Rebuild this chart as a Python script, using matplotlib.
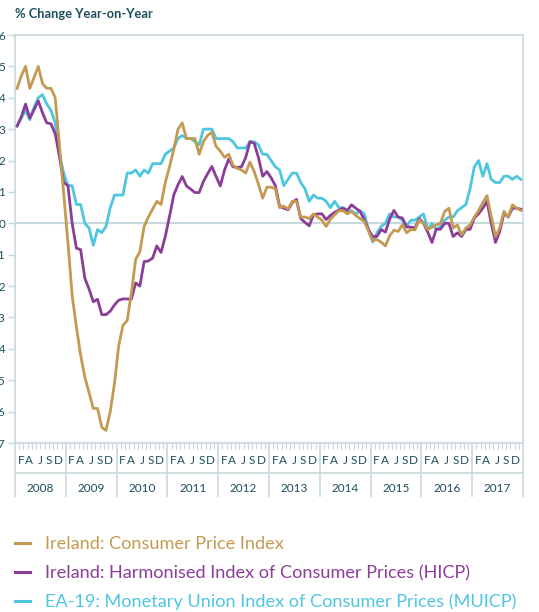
import numpy as np
import matplotlib
matplotlib.use('Agg')
import matplotlib.pyplot as plt
import matplotlib.transforms as mtransforms
from matplotlib.lines import Line2D
from matplotlib.ticker import MultipleLocator

plt.rcParams['font.family'] = ['Lato', 'DejaVu Sans']

# 데이터 (2008-01 ~ 2017-12, 월별 전년동월비 %)
years = list(range(2008, 2018))
month_marks = ['F', 'A', 'J', 'S', 'D']
y_ticks = list(range(-7, 7))

cpi = [
    4.3, 4.7, 5.0, 4.3, 4.65, 5.0, 4.45, 4.3, 4.3, 4.0, 2.5, 0.95,      # 2008
    -0.6, -2.3, -3.3, -4.2, -4.9, -5.4, -5.9, -5.9, -6.5, -6.6, -6.0, -5.1,  # 2009
    -3.9, -3.25, -3.1, -2.2, -1.15, -0.9, -0.1, 0.2, 0.45, 0.7, 0.6, 1.3,   # 2010
    1.8, 2.35, 3.0, 3.2, 2.7, 2.7, 2.7, 2.2, 2.6, 2.8, 2.9, 2.45,       # 2011
    2.3, 2.1, 2.2, 1.85, 1.75, 1.7, 1.6, 1.95, 1.65, 1.25, 0.8, 1.15,   # 2012
    1.15, 1.1, 0.5, 0.55, 0.45, 0.7, 0.7, 0.2, 0.2, 0.15, 0.3, 0.2,     # 2013
    0.1, -0.1, 0.13, 0.27, 0.4, 0.4, 0.3, 0.38, 0.25, 0.15, 0.06, -0.25,  # 2014
    -0.55, -0.52, -0.6, -0.72, -0.4, -0.22, -0.26, -0.05, -0.3, -0.2, -0.21, 0.11,  # 2015
    0.0, -0.2, -0.12, -0.05, 0.0, 0.38, 0.48, -0.15, -0.05, -0.37, -0.15, -0.05,  # 2016
    0.2, 0.4, 0.66, 0.88, 0.22, -0.42, -0.15, 0.38, 0.2, 0.59, 0.48, 0.41,  # 2017
]
hicp = [
    3.1, 3.4, 3.8, 3.35, 3.62, 3.9, 3.52, 3.2, 3.17, 2.85, 2.13, 1.3,
    1.2, 0.0, -0.79, -0.84, -1.75, -2.1, -2.5, -2.42, -2.91, -2.91, -2.8, -2.6,
    -2.45, -2.41, -2.41, -2.41, -1.9, -2.0, -1.22, -1.2, -1.11, -0.72, -0.93, -0.42,
    0.22, 0.9, 1.23, 1.49, 1.19, 1.09, 0.98, 0.98, 1.33, 1.58, 1.81, 1.49,
    1.19, 1.7, 2.05, 1.8, 1.78, 1.8, 2.1, 2.6, 2.55, 2.1, 1.5, 1.65,
    1.45, 1.2, 0.55, 0.48, 0.43, 0.66, 0.76, 0.15, 0.03, -0.08, 0.27, 0.3,
    0.3, 0.12, 0.25, 0.35, 0.42, 0.48, 0.41, 0.59, 0.48, 0.38, 0.12, -0.2,
    -0.42, -0.42, -0.2, -0.28, 0.13, 0.41, 0.2, 0.17, -0.12, -0.12, -0.15, 0.15,
    0.0, -0.28, -0.61, -0.19, -0.19, 0.0, 0.0, -0.42, -0.3, -0.42, -0.2, -0.19,
    0.17, 0.3, 0.48, 0.7, 0.0, -0.61, -0.26, 0.32, 0.2, 0.48, 0.48, 0.45,
]
muicp = [
    3.1, 3.35, 3.6, 3.3, 3.7, 4.0, 4.1, 3.8, 3.6, 3.2, 2.2, 1.6,
    1.2, 1.2, 0.6, 0.6, 0.0, -0.15, -0.7, -0.2, -0.3, -0.1, 0.5, 0.9,
    0.9, 0.9, 1.6, 1.6, 1.7, 1.5, 1.7, 1.6, 1.9, 1.9, 1.9, 2.2,
    2.3, 2.4, 2.7, 2.8, 2.7, 2.7, 2.6, 2.5, 3.0, 3.0, 3.0, 2.7,
    2.7, 2.7, 2.7, 2.6, 2.4, 2.4, 2.4, 2.6, 2.6, 2.5, 2.2, 2.2,
    2.0, 1.8, 1.7, 1.2, 1.4, 1.6, 1.6, 1.3, 1.1, 0.7, 0.9, 0.8,
    0.8, 0.7, 0.5, 0.7, 0.5, 0.5, 0.4, 0.4, 0.3, 0.4, 0.3, -0.2,
    -0.6, -0.3, -0.1, 0.0, 0.3, 0.2, 0.2, 0.1, -0.1, 0.1, 0.1, 0.2,
    0.3, -0.2, 0.0, -0.2, -0.1, 0.1, 0.2, 0.2, 0.4, 0.5, 0.6, 1.1,
    1.8, 2.0, 1.5, 1.9, 1.4, 1.3, 1.3, 1.5, 1.5, 1.4, 1.5, 1.4,
]

labels = ['Ireland: Consumer Price Index',
          'Ireland: Harmonised Index of Consumer Prices (HICP)',
          'EA-19: Monetary Union Index of Consumer Prices (MUICP)']

GOLD = '#c49a52'
PURPLE = '#8b3d98'
CYAN = '#4fc6e0'
TEXT = '#1d4f5c'
FRAME = '#c8d9dd'

# 월 중앙 위치 (연 단위)
x = np.array([yr + (m + 0.5) / 12 for yr in years for m in range(12)])

W, H = 539, 612
fig = plt.figure(figsize=(W / 100, H / 100), dpi=100)
ax = fig.add_axes([15 / W, 1 - 443 / H, (523 - 15) / W, (443 - 35) / H])

ax.plot(x, muicp, color=CYAN, lw=2.0, zorder=3)
ax.plot(x, hicp, color=PURPLE, lw=2.0, zorder=4)
ax.plot(x, cpi, color=GOLD, lw=2.0, zorder=5)

ax.set_xlim(2008, 2018)
ax.set_ylim(-7, 6)
ax.axhline(0, color=FRAME, lw=1.5, zorder=1)

for s in ax.spines.values():
    s.set_color(FRAME)
    s.set_linewidth(1.2)

# y축 (원본처럼 왼쪽 끝에서 잘림)
ax.set_yticks(y_ticks)
ax.tick_params(axis='y', length=5, width=1, color=FRAME, labelcolor=TEXT,
               labelsize=8.5, pad=2)

# x축: 연도 구분선(major), 월 눈금(minor)
ax.set_xticks(list(range(2008, 2019)))
ax.set_xticklabels([])
ax.xaxis.set_minor_locator(MultipleLocator(1 / 12))
ax.tick_params(axis='x', which='major', length=39, width=1.2, color=FRAME)
ax.tick_params(axis='x', which='minor', length=4.3, width=0.8, color=FRAME)

trans = mtransforms.blended_transform_factory(ax.transData, ax.transAxes)
ax_h = 443 - 35
ax.plot([2008, 2018], [-(473 - 443) / ax_h] * 2, color=FRAME, lw=1.2,
        transform=trans, clip_on=False)

month_off = [1.35, 3.3, 6.0, 8.05, 10.15]
for yr in years:
    for mk, off in zip(month_marks, month_off):
        ax.text(yr + off / 12, -(461 - 443) / ax_h, mk, transform=trans,
                ha='center', va='center', fontsize=8.5, color=TEXT)
    ax.text(yr + 0.5, -(489 - 443) / ax_h, str(yr), transform=trans,
            ha='center', va='center', fontsize=8.5, color=TEXT)

fig.text(15 / W, 1 - 14 / H, '% Change Year-on-Year', ha='left', va='center',
         fontsize=9.3, fontweight='bold', color=TEXT)

# 범례 (수동)
for k, (lab, col) in enumerate(zip(labels, [GOLD, PURPLE, CYAN])):
    yy = 543 + 29 * k
    fig.add_artist(Line2D([15 / W, 30 / W], [1 - yy / H] * 2, color=col, lw=2.2))
    fig.text(45 / W, 1 - (yy + 6) / H, lab, ha='left', va='baseline',
             fontsize=13.1, color=col)

fig.savefig('out.png', dpi=100)
